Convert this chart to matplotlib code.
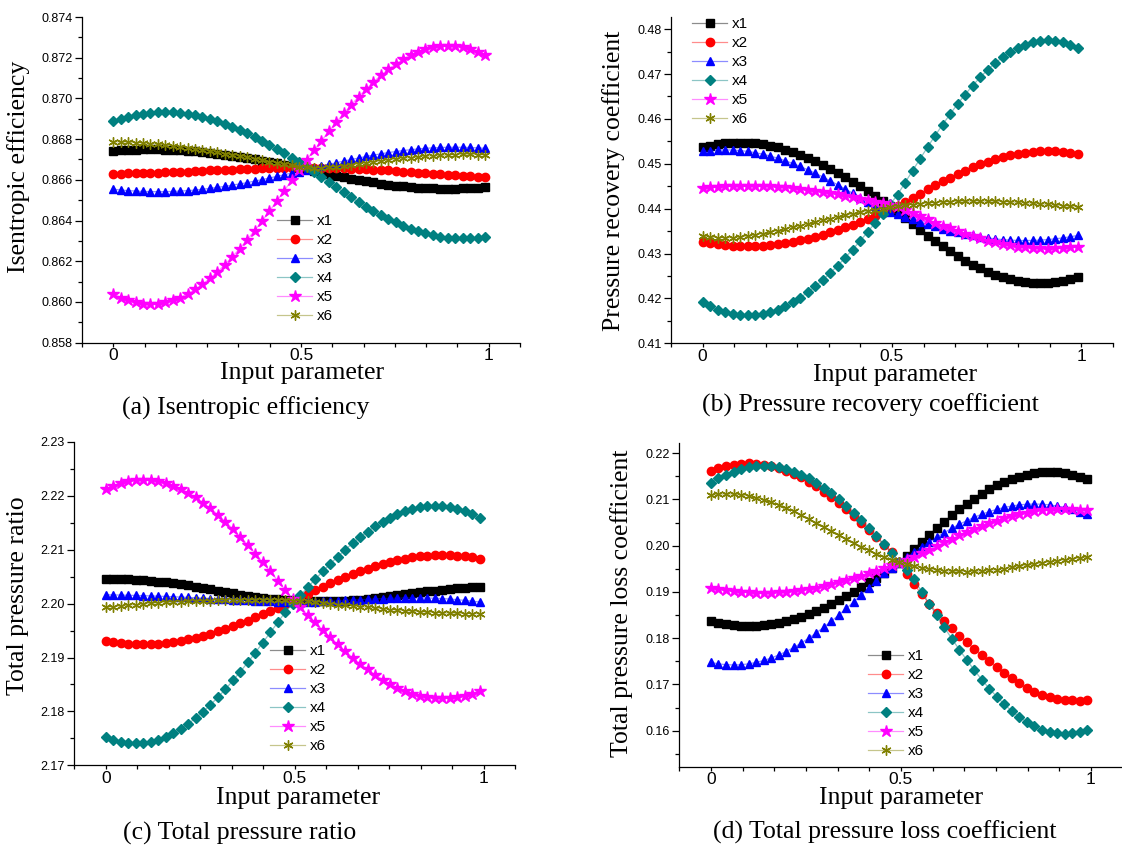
import matplotlib
matplotlib.use("Agg")
import matplotlib.pyplot as plt
from matplotlib.colors import to_rgba
from matplotlib.ticker import MultipleLocator, FormatStrFormatter

# input parameter samples (shared by all panels)
x_in = [0.0, 0.0198, 0.0396, 0.0594, 0.0792, 0.099, 0.1188, 0.1386, 0.1584, 0.1782,
        0.198, 0.2178, 0.2376, 0.2574, 0.2772, 0.297, 0.3168, 0.3366, 0.3564, 0.3762,
        0.396, 0.4158, 0.4356, 0.4554, 0.4752, 0.495, 0.5148, 0.5346, 0.5544, 0.5742,
        0.594, 0.6138, 0.6336, 0.6534, 0.6732, 0.693, 0.7128, 0.7326, 0.7524, 0.7722,
        0.792, 0.8118, 0.8316, 0.8514, 0.8712, 0.891, 0.9108, 0.9306, 0.9504, 0.9702, 0.99]

# (a) Isentropic efficiency
a_x1 = [0.86743, 0.86746, 0.86747, 0.86749, 0.86750, 0.86750, 0.86750, 0.86749, 0.86747, 0.86746,
        0.86743, 0.86740, 0.86737, 0.86733, 0.86728, 0.86724, 0.86718, 0.86713, 0.86707, 0.86701,
        0.86694, 0.86688, 0.86681, 0.86674, 0.86667, 0.86660, 0.86652, 0.86644, 0.86636, 0.86628,
        0.86621, 0.86613, 0.86606, 0.86599, 0.86593, 0.86587, 0.86582, 0.86577, 0.86572, 0.86568,
        0.86565, 0.86562, 0.86560, 0.86558, 0.86557, 0.86557, 0.86557, 0.86558, 0.86560, 0.86562, 0.86565]
a_x2 = [0.86630, 0.86631, 0.86632, 0.86633, 0.86634, 0.86635, 0.86636, 0.86637, 0.86638, 0.86640,
        0.86641, 0.86643, 0.86644, 0.86646, 0.86647, 0.86649, 0.86650, 0.86652, 0.86653, 0.86654,
        0.86656, 0.86657, 0.86658, 0.86659, 0.86659, 0.86660, 0.86660, 0.86660, 0.86659, 0.86659,
        0.86658, 0.86657, 0.86655, 0.86654, 0.86652, 0.86650, 0.86648, 0.86646, 0.86643, 0.86641,
        0.86638, 0.86636, 0.86633, 0.86631, 0.86628, 0.86626, 0.86623, 0.86621, 0.86618, 0.86616, 0.86613]
a_x3 = [0.86554, 0.86550, 0.86547, 0.86545, 0.86543, 0.86542, 0.86542, 0.86542, 0.86543, 0.86545,
        0.86547, 0.86550, 0.86554, 0.86558, 0.86563, 0.86568, 0.86574, 0.86580, 0.86586, 0.86594,
        0.86601, 0.86609, 0.86617, 0.86625, 0.86633, 0.86641, 0.86650, 0.86659, 0.86667, 0.86676,
        0.86684, 0.86692, 0.86700, 0.86707, 0.86715, 0.86721, 0.86728, 0.86734, 0.86739, 0.86744,
        0.86748, 0.86752, 0.86755, 0.86757, 0.86759, 0.86760, 0.86760, 0.86760, 0.86759, 0.86757, 0.86755]
a_x4 = [0.86889, 0.86900, 0.86910, 0.86918, 0.86924, 0.86928, 0.86931, 0.86932, 0.86931, 0.86928,
        0.86924, 0.86918, 0.86910, 0.86900, 0.86889, 0.86876, 0.86862, 0.86846, 0.86830, 0.86812,
        0.86792, 0.86773, 0.86752, 0.86730, 0.86708, 0.86686, 0.86663, 0.86640, 0.86614, 0.86589,
        0.86564, 0.86539, 0.86514, 0.86491, 0.86469, 0.86447, 0.86427, 0.86408, 0.86391, 0.86375,
        0.86360, 0.86348, 0.86337, 0.86328, 0.86321, 0.86316, 0.86313, 0.86312, 0.86313, 0.86316, 0.86321]
a_x5 = [0.86040, 0.86022, 0.86008, 0.85998, 0.85992, 0.85990, 0.85992, 0.85998, 0.86008, 0.86022,
        0.86040, 0.86062, 0.86087, 0.86116, 0.86148, 0.86183, 0.86222, 0.86262, 0.86305, 0.86350,
        0.86397, 0.86446, 0.86496, 0.86547, 0.86598, 0.86650, 0.86698, 0.86745, 0.86792, 0.86838,
        0.86883, 0.86926, 0.86968, 0.87008, 0.87045, 0.87081, 0.87113, 0.87143, 0.87169, 0.87193,
        0.87213, 0.87229, 0.87242, 0.87252, 0.87257, 0.87259, 0.87257, 0.87252, 0.87242, 0.87229, 0.87213]
a_x6 = [0.86787, 0.86786, 0.86785, 0.86783, 0.86781, 0.86778, 0.86775, 0.86771, 0.86767, 0.86762,
        0.86757, 0.86752, 0.86746, 0.86741, 0.86735, 0.86729, 0.86723, 0.86716, 0.86710, 0.86703,
        0.86697, 0.86690, 0.86684, 0.86677, 0.86671, 0.86665, 0.86661, 0.86659, 0.86659, 0.86661,
        0.86664, 0.86668, 0.86672, 0.86677, 0.86682, 0.86687, 0.86692, 0.86697, 0.86701, 0.86705,
        0.86709, 0.86712, 0.86715, 0.86718, 0.86720, 0.86722, 0.86724, 0.86725, 0.86725, 0.86724, 0.86722]

# (b) Pressure recovery coefficient
b_x1 = [0.45363, 0.45401, 0.45431, 0.45453, 0.45466, 0.45470, 0.45466, 0.45453, 0.45431, 0.45401,
        0.45363, 0.45316, 0.45263, 0.45201, 0.45132, 0.45057, 0.44975, 0.44889, 0.44796, 0.44700,
        0.44600, 0.44496, 0.44389, 0.44280, 0.44171, 0.44060, 0.43924, 0.43792, 0.43659, 0.43529,
        0.43401, 0.43279, 0.43162, 0.43049, 0.42944, 0.42844, 0.42753, 0.42669, 0.42593, 0.42527,
        0.42471, 0.42424, 0.42388, 0.42361, 0.42345, 0.42340, 0.42345, 0.42361, 0.42388, 0.42424, 0.42471]
b_x2 = [0.43257, 0.43228, 0.43204, 0.43185, 0.43171, 0.43163, 0.43160, 0.43163, 0.43171, 0.43185,
        0.43204, 0.43228, 0.43257, 0.43291, 0.43330, 0.43374, 0.43421, 0.43472, 0.43527, 0.43585,
        0.43646, 0.43709, 0.43775, 0.43843, 0.43911, 0.43980, 0.44050, 0.44147, 0.44242, 0.44337,
        0.44430, 0.44521, 0.44608, 0.44692, 0.44773, 0.44848, 0.44920, 0.44985, 0.45045, 0.45099,
        0.45146, 0.45187, 0.45220, 0.45246, 0.45265, 0.45276, 0.45280, 0.45276, 0.45265, 0.45246, 0.45220]
b_x3 = [0.45275, 0.45295, 0.45306, 0.45310, 0.45306, 0.45295, 0.45275, 0.45248, 0.45214, 0.45173,
        0.45125, 0.45069, 0.45008, 0.44941, 0.44868, 0.44791, 0.44708, 0.44622, 0.44533, 0.44439,
        0.44344, 0.44247, 0.44150, 0.44050, 0.43990, 0.43931, 0.43873, 0.43815, 0.43759, 0.43705,
        0.43653, 0.43603, 0.43557, 0.43513, 0.43472, 0.43435, 0.43402, 0.43373, 0.43348, 0.43327,
        0.43311, 0.43299, 0.43292, 0.43290, 0.43292, 0.43299, 0.43311, 0.43327, 0.43348, 0.43373, 0.43402]
b_x4 = [0.41913, 0.41824, 0.41752, 0.41695, 0.41652, 0.41628, 0.41620, 0.41628, 0.41652, 0.41695,
        0.41752, 0.41824, 0.41913, 0.42015, 0.42134, 0.42266, 0.42408, 0.42564, 0.42728, 0.42906,
        0.43089, 0.43280, 0.43479, 0.43683, 0.43890, 0.44097, 0.44310, 0.44582, 0.44847, 0.45112,
        0.45373, 0.45628, 0.45872, 0.46106, 0.46333, 0.46543, 0.46742, 0.46924, 0.47093, 0.47244,
        0.47375, 0.47489, 0.47581, 0.47654, 0.47709, 0.47740, 0.47750, 0.47740, 0.47709, 0.47654, 0.47581]
b_x5 = [0.44460, 0.44475, 0.44487, 0.44497, 0.44504, 0.44509, 0.44510, 0.44509, 0.44504, 0.44497,
        0.44487, 0.44475, 0.44460, 0.44442, 0.44422, 0.44400, 0.44375, 0.44349, 0.44320, 0.44290,
        0.44259, 0.44226, 0.44192, 0.44157, 0.44122, 0.44086, 0.44050, 0.43976, 0.43903, 0.43831,
        0.43760, 0.43690, 0.43623, 0.43559, 0.43497, 0.43440, 0.43385, 0.43336, 0.43290, 0.43248,
        0.43212, 0.43181, 0.43156, 0.43136, 0.43121, 0.43113, 0.43110, 0.43113, 0.43121, 0.43136, 0.43156]
b_x6 = [0.43385, 0.43370, 0.43355, 0.43350, 0.43355, 0.43370, 0.43390, 0.43415, 0.43445, 0.43478,
        0.43512, 0.43548, 0.43585, 0.43622, 0.43660, 0.43700, 0.43738, 0.43776, 0.43812, 0.43848,
        0.43882, 0.43915, 0.43946, 0.43975, 0.44002, 0.44027, 0.44050, 0.44071, 0.44090, 0.44107,
        0.44122, 0.44135, 0.44146, 0.44155, 0.44162, 0.44166, 0.44168, 0.44168, 0.44166, 0.44162,
        0.44156, 0.44149, 0.44140, 0.44130, 0.44119, 0.44107, 0.44094, 0.44080, 0.44065, 0.44050, 0.44035]

# (c) Total pressure ratio
c_x1 = [2.20460, 2.20459, 2.20456, 2.20451, 2.20444, 2.20435, 2.20424, 2.20411, 2.20396, 2.20379,
        2.20360, 2.20338, 2.20314, 2.20289, 2.20263, 2.20237, 2.20213, 2.20189, 2.20167, 2.20146,
        2.20127, 2.20110, 2.20095, 2.20082, 2.20071, 2.20062, 2.20055, 2.20050, 2.20047, 2.20046,
        2.20047, 2.20051, 2.20057, 2.20066, 2.20077, 2.20090, 2.20105, 2.20121, 2.20138, 2.20156,
        2.20174, 2.20192, 2.20210, 2.20227, 2.20243, 2.20258, 2.20272, 2.20285, 2.20297, 2.20308, 2.20318]
c_x2 = [2.19311, 2.19289, 2.19272, 2.19260, 2.19252, 2.19250, 2.19252, 2.19260, 2.19272, 2.19289,
        2.19311, 2.19337, 2.19368, 2.19403, 2.19442, 2.19484, 2.19531, 2.19580, 2.19632, 2.19687,
        2.19744, 2.19803, 2.19864, 2.19925, 2.19987, 2.20050, 2.20117, 2.20183, 2.20248, 2.20313,
        2.20376, 2.20436, 2.20494, 2.20550, 2.20602, 2.20651, 2.20696, 2.20738, 2.20775, 2.20807,
        2.20835, 2.20858, 2.20876, 2.20890, 2.20897, 2.20900, 2.20897, 2.20890, 2.20876, 2.20858, 2.20835]
c_x3 = [2.20165, 2.20162, 2.20159, 2.20156, 2.20152, 2.20148, 2.20144, 2.20139, 2.20134, 2.20128,
        2.20122, 2.20116, 2.20109, 2.20102, 2.20095, 2.20088, 2.20081, 2.20074, 2.20067, 2.20060,
        2.20054, 2.20048, 2.20043, 2.20039, 2.20036, 2.20034, 2.20034, 2.20035, 2.20038, 2.20042,
        2.20047, 2.20053, 2.20060, 2.20067, 2.20074, 2.20081, 2.20088, 2.20094, 2.20099, 2.20103,
        2.20106, 2.20107, 2.20107, 2.20105, 2.20101, 2.20095, 2.20085, 2.20074, 2.20061, 2.20046, 2.20030]
c_x4 = [2.17529, 2.17478, 2.17439, 2.17417, 2.17410, 2.17417, 2.17439, 2.17478, 2.17529, 2.17595,
        2.17675, 2.17768, 2.17875, 2.17994, 2.18123, 2.18265, 2.18413, 2.18574, 2.18740, 2.18912,
        2.19093, 2.19278, 2.19465, 2.19653, 2.19845, 2.20000, 2.20152, 2.20303, 2.20452, 2.20598,
        2.20737, 2.20871, 2.21000, 2.21120, 2.21234, 2.21338, 2.21435, 2.21521, 2.21596, 2.21661,
        2.21714, 2.21755, 2.21786, 2.21804, 2.21810, 2.21804, 2.21786, 2.21755, 2.21714, 2.21661, 2.21596]
c_x5 = [2.22131, 2.22191, 2.22238, 2.22273, 2.22293, 2.22300, 2.22293, 2.22273, 2.22238, 2.22191,
        2.22131, 2.22058, 2.21974, 2.21876, 2.21767, 2.21650, 2.21521, 2.21385, 2.21239, 2.21088,
        2.20930, 2.20766, 2.20597, 2.20426, 2.20255, 2.20080, 2.19935, 2.19793, 2.19651, 2.19511,
        2.19375, 2.19245, 2.19120, 2.18998, 2.18886, 2.18779, 2.18682, 2.18591, 2.18510, 2.18441,
        2.18380, 2.18330, 2.18292, 2.18262, 2.18246, 2.18240, 2.18246, 2.18262, 2.18292, 2.18330, 2.18380]
c_x6 = [2.19932, 2.19945, 2.19958, 2.19970, 2.19982, 2.19993, 2.20004, 2.20014, 2.20023, 2.20031,
        2.20038, 2.20044, 2.20049, 2.20054, 2.20058, 2.20062, 2.20066, 2.20069, 2.20072, 2.20074,
        2.20075, 2.20075, 2.20073, 2.20070, 2.20065, 2.20058, 2.20050, 2.20041, 2.20025, 2.20012,
        2.19998, 2.19984, 2.19970, 2.19956, 2.19942, 2.19929, 2.19916, 2.19903, 2.19891, 2.19880,
        2.19869, 2.19859, 2.19850, 2.19842, 2.19835, 2.19829, 2.19824, 2.19820, 2.19817, 2.19815, 2.19813]

# (d) Total pressure loss coefficient
d_x1 = [0.18364, 0.18327, 0.18298, 0.18276, 0.18264, 0.18260, 0.18264, 0.18276, 0.18298, 0.18327,
        0.18364, 0.18409, 0.18461, 0.18522, 0.18589, 0.18661, 0.18741, 0.18824, 0.18915, 0.19008,
        0.19105, 0.19207, 0.19311, 0.19416, 0.19522, 0.19630, 0.19785, 0.19936, 0.20087, 0.20236,
        0.20381, 0.20520, 0.20653, 0.20782, 0.20902, 0.21016, 0.21120, 0.21216, 0.21302, 0.21376,
        0.21441, 0.21494, 0.21535, 0.21566, 0.21584, 0.21590, 0.21584, 0.21566, 0.21535, 0.21494, 0.21441]
d_x2 = [0.21622, 0.21678, 0.21722, 0.21755, 0.21774, 0.21780, 0.21774, 0.21755, 0.21722, 0.21678,
        0.21622, 0.21553, 0.21474, 0.21383, 0.21281, 0.21171, 0.21050, 0.20923, 0.20786, 0.20644,
        0.20497, 0.20343, 0.20185, 0.20024, 0.19864, 0.19650, 0.19390, 0.19165, 0.18950, 0.18745,
        0.18550, 0.18376, 0.18211, 0.18056, 0.17908, 0.17767, 0.17632, 0.17501, 0.17374, 0.17252,
        0.17134, 0.17024, 0.16925, 0.16840, 0.16771, 0.16719, 0.16683, 0.16662, 0.16653, 0.16651, 0.16654]
d_x3 = [0.17475, 0.17444, 0.17426, 0.17420, 0.17426, 0.17444, 0.17475, 0.17517, 0.17570, 0.17636,
        0.17711, 0.17798, 0.17895, 0.18000, 0.18115, 0.18236, 0.18366, 0.18501, 0.18642, 0.18788,
        0.18939, 0.19091, 0.19244, 0.19400, 0.19519, 0.19634, 0.19750, 0.19864, 0.19975, 0.20081,
        0.20183, 0.20282, 0.20374, 0.20461, 0.20540, 0.20614, 0.20680, 0.20737, 0.20786, 0.20827,
        0.20858, 0.20882, 0.20896, 0.20900, 0.20896, 0.20882, 0.20858, 0.20827, 0.20786, 0.20737, 0.20680]
d_x4 = [0.21360, 0.21453, 0.21534, 0.21600, 0.21651, 0.21691, 0.21713, 0.21720, 0.21713, 0.21691,
        0.21651, 0.21600, 0.21534, 0.21453, 0.21360, 0.21252, 0.21132, 0.21002, 0.20860, 0.20711,
        0.20549, 0.20382, 0.20208, 0.20027, 0.19841, 0.19652, 0.19464, 0.19270, 0.19006, 0.18749,
        0.18492, 0.18238, 0.17991, 0.17754, 0.17527, 0.17306, 0.17102, 0.16909, 0.16732, 0.16568,
        0.16421, 0.16294, 0.16184, 0.16094, 0.16024, 0.15970, 0.15940, 0.15930, 0.15940, 0.15970, 0.16024]
d_x5 = [0.19093, 0.19064, 0.19039, 0.19018, 0.19002, 0.18989, 0.18982, 0.18980, 0.18982, 0.18989,
        0.19002, 0.19018, 0.19039, 0.19064, 0.19093, 0.19127, 0.19165, 0.19206, 0.19250, 0.19297,
        0.19348, 0.19400, 0.19455, 0.19512, 0.19571, 0.19630, 0.19689, 0.19750, 0.19832, 0.19912,
        0.19992, 0.20071, 0.20148, 0.20222, 0.20293, 0.20362, 0.20425, 0.20485, 0.20540, 0.20591,
        0.20637, 0.20677, 0.20711, 0.20739, 0.20761, 0.20778, 0.20787, 0.20790, 0.20787, 0.20778, 0.20761]
d_x6 = [0.21096, 0.21110, 0.21118, 0.21115, 0.21100, 0.21075, 0.21040, 0.20995, 0.20942, 0.20882,
        0.20815, 0.20742, 0.20664, 0.20582, 0.20497, 0.20410, 0.20322, 0.20234, 0.20147, 0.20062,
        0.19980, 0.19902, 0.19828, 0.19760, 0.19698, 0.19643, 0.19595, 0.19554, 0.19520, 0.19493,
        0.19472, 0.19457, 0.19447, 0.19442, 0.19441, 0.19443, 0.19452, 0.19466, 0.19484, 0.19505,
        0.19528, 0.19552, 0.19577, 0.19602, 0.19627, 0.19651, 0.19674, 0.19696, 0.19716, 0.19734, 0.19750]

series_names = ["x1", "x2", "x3", "x4", "x5", "x6"]
colors = ["#000000", "#ff0000", "#0000ff", "#008080", "#ff00ff", "#808000"]
markers = ["s", "o", "^", "D", "*", (6, 2, 0)]
msizes = [5.4, 6.0, 6.4, 5.2, 8.8, 7.2]

W, H = 1122, 848
SERIF = "Liberation Serif"
SANS = "Liberation Sans"

fig = plt.figure(figsize=(W / 100, H / 100), dpi=100)


def fx(px):
    return px / W


def fy(py):
    return 1 - py / H


def panel(rect, data, ylim, ystep, yfmt, leg_xy, ylabel, ylab_xy, xlab_xy, caption, cap_xy):
    left, top, right, bottom = rect
    ax = fig.add_axes([fx(left), fy(bottom), fx(right - left), (bottom - top) / H])
    for ys, name, col, mk, ms in zip(data, series_names, colors, markers, msizes):
        ax.plot(x_in, ys, color=to_rgba(col, 0.45), lw=0.9, marker=mk, ms=ms,
                mfc=col, mec=col, mew=1.0, label=name)
    ax.set_xlim(-1 / 12, 13 / 12)
    ax.set_ylim(*ylim)
    ax.spines["top"].set_visible(False)
    ax.spines["right"].set_visible(False)
    for s in ("left", "bottom"):
        ax.spines[s].set_linewidth(0.9)
    ax.set_xticks([0, 0.5, 1])
    ax.set_xticklabels(["0", "0.5", "1"])
    ax.xaxis.set_minor_locator(MultipleLocator(1 / 12))
    ax.yaxis.set_major_locator(MultipleLocator(ystep))
    ax.yaxis.set_minor_locator(MultipleLocator(ystep / 2))
    ax.yaxis.set_major_formatter(FormatStrFormatter(yfmt))
    ax.tick_params(axis="x", which="major", direction="out", length=2.6, width=0.9,
                   labelsize=12.5, pad=1.5)
    ax.tick_params(axis="x", which="minor", direction="out", length=2.6, width=0.9)
    ax.tick_params(axis="y", which="major", direction="out", length=4.8, width=0.9,
                   labelsize=9, pad=2)
    ax.tick_params(axis="y", which="minor", direction="out", length=3.0, width=0.9)
    for lab in ax.get_xticklabels() + ax.get_yticklabels():
        lab.set_fontfamily(SANS)
    ax.legend(loc="upper left", bbox_to_anchor=(fx(leg_xy[0]), fy(leg_xy[1])),
              bbox_transform=fig.transFigure, frameon=False, borderpad=0,
              borderaxespad=0, handlelength=2.3, handletextpad=0.33,
              labelspacing=0.33, prop={"family": SANS, "size": 11})
    fig.text(fx(ylab_xy[0]), fy(ylab_xy[1]), ylabel, rotation=90, ha="center",
             va="center", family=SERIF, fontsize=18.5)
    fig.text(fx(xlab_xy[0]), fy(xlab_xy[1]), "Input parameter", ha="center",
             va="center", family=SERIF, fontsize=18.5)
    fig.text(fx(cap_xy[0]), fy(cap_xy[1]), caption, ha="center", va="center",
             family=SERIF, fontsize=18.5)
    return ax


panel((82, 17, 520, 342.7), [a_x1, a_x2, a_x3, a_x4, a_x5, a_x6],
      (0.858, 0.874), 0.002, "%.3f", (277, 214), "Isentropic efficiency",
      (19, 167), (302, 373), "(a) Isentropic efficiency", (246, 408))

panel((671, 17, 1113, 343.3), [b_x1, b_x2, b_x3, b_x4, b_x5, b_x6],
      (0.41, 0.4827), 0.01, "%.2f", (692, 17), "Pressure recovery coefficient",
      (614, 181), (895, 375), "(b) Pressure recovery coefficient", (870, 405))

panel((74.3, 442, 515, 765.3), [c_x1, c_x2, c_x3, c_x4, c_x5, c_x6],
      (2.17, 2.23), 0.01, "%.2f", (270, 644), "Total pressure ratio",
      (18, 596), (298, 798), "(c) Total pressure ratio", (240, 833))

panel((679.3, 443, 1122.6, 766.7), [d_x1, d_x2, d_x3, d_x4, d_x5, d_x6],
      (0.1522, 0.2222), 0.01, "%.2f", (868, 649), "Total pressure loss coefficient",
      (622, 603), (901, 798), "(d) Total pressure loss coefficient", (885, 832))

fig.savefig("out.png", dpi=100)
